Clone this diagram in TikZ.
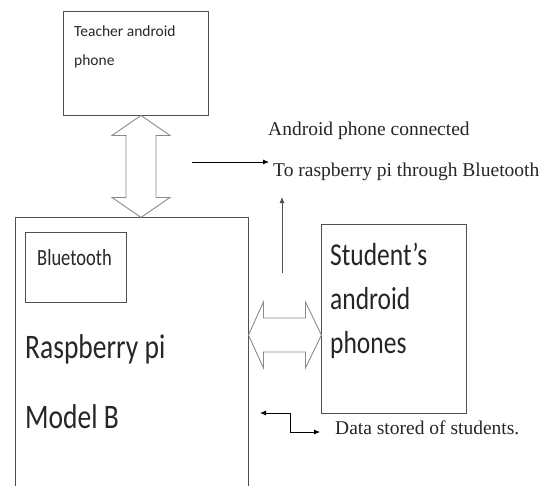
\documentclass[tikz,border=0pt]{standalone}
\usepackage{fontspec}
\setmainfont{Liberation Serif}
\newfontfamily\calibri{Carlito}
\usetikzlibrary{arrows.meta,calc,positioning}
\definecolor{boxgray}{HTML}{505050}
\definecolor{fatgray}{HTML}{8A8A8A}
\definecolor{txtgray}{HTML}{262626}

\begin{document}
\begin{tikzpicture}[x=1pt,y=-1pt]
        \tikzset{box/.style = {draw=boxgray,line width=0.9pt,inner sep=0pt}}
        \tikzset{fat/.style = {draw=fatgray,line width=0.9pt,line join=miter}}
        \tikzset{edge/.style = {->,> = {Latex[length=6pt,width=5pt]},line width=0.8pt}}
        \tikzset{txt/.style = {anchor=base west,inner sep=0pt,text=txtgray}}
        \tikzset{big/.style = {txt,font=\calibri\fontsize{27.5}{33}\selectfont}}
        \tikzset{mid/.style = {txt,font=\calibri\fontsize{25.5}{30}\selectfont}}
        \tikzset{note/.style = {txt,font=\fontsize{19.5}{23}\selectfont}}
        \useasboundingbox (0,0) rectangle (545,485);
        \clip (0,0) rectangle (545,485);
        % boxes
        \node[box,minimum width=145pt,minimum height=104pt] (teacher) at (135.5,63) {};
        \node[box,minimum width=233pt,minimum height=300pt] (raspi) at (131.5,367) {};
        \node[box,minimum width=101pt,minimum height=70pt] (bt) at (75.5,267) {};
        \node[box,minimum width=145pt,minimum height=189pt] (student) at (393.5,318.5) {};
        % texts
        \node[txt,font=\calibri\fontsize{15.5}{18}\selectfont] (tline1) at (74,36) {Teacher android};
        \node[txt,font=\calibri\fontsize{15.5}{18}\selectfont] (tline2) at (74,65) {phone};
        \node[txt,font=\calibri\fontsize{18.5}{22}\selectfont] (bttxt) at (37,265) {\scalebox{1}[1.25]{Bluetooth}};
        \node[big] (rpi) at (25,358) {\scalebox{1}[1.25]{Raspberry pi}};
        \node[big] (model) at (25,428) {\scalebox{1}[1.25]{Model B}};
        \node[mid] (sline1) at (330,265) {\scalebox{1}[1.25]{Student’s}};
        \node[mid] (sline2) at (330,309) {\scalebox{1}[1.25]{android}};
        \node[mid] (sline3) at (330,353) {\scalebox{1}[1.25]{phones}};
        \node[note] (conntxt) at (268,135) {Android phone connected};
        \node[note] (totxt) at (273,176) {To raspberry pi through Bluetooth};
        \node[note] (datatxt) at (335,434) {Data stored of students.};
        % free ends
        \coordinate (linkstart) at (192,162);
        \coordinate (uptail) at (282,273);
        \coordinate (uptip) at (282,197);
        \coordinate (datatail) at (260,413);
        %edges
        \draw[fat] ([xshift=5.5pt]teacher.south) -- ++(-29,20) -- ++(14,0) -- ++(0,62) -- ++(-14,0)
                -- ++(29,20) -- ++(29,-20) -- ++(-14,0) -- ++(0,-62) -- ++(14,0) -- cycle;
        \draw[fat] ([yshift=32pt]raspi.east) -- ++(15,-33) -- ++(0,16) -- ++(42,0) -- ++(0,-16)
                -- ++(16,33) -- ++(-16,33) -- ++(0,-16) -- ++(-42,0) -- ++(0,16) -- cycle;
        \draw[edge] (linkstart) -- ([xshift=-4pt]linkstart -| totxt.west);
        \draw[edge,draw=boxgray] (uptail) -- (uptip);
        \draw[edge,<->] (datatail) -- ++(30,0) |- ([xshift=-15pt,yshift=2pt]datatxt.base west);
\end{tikzpicture}
\end{document}
